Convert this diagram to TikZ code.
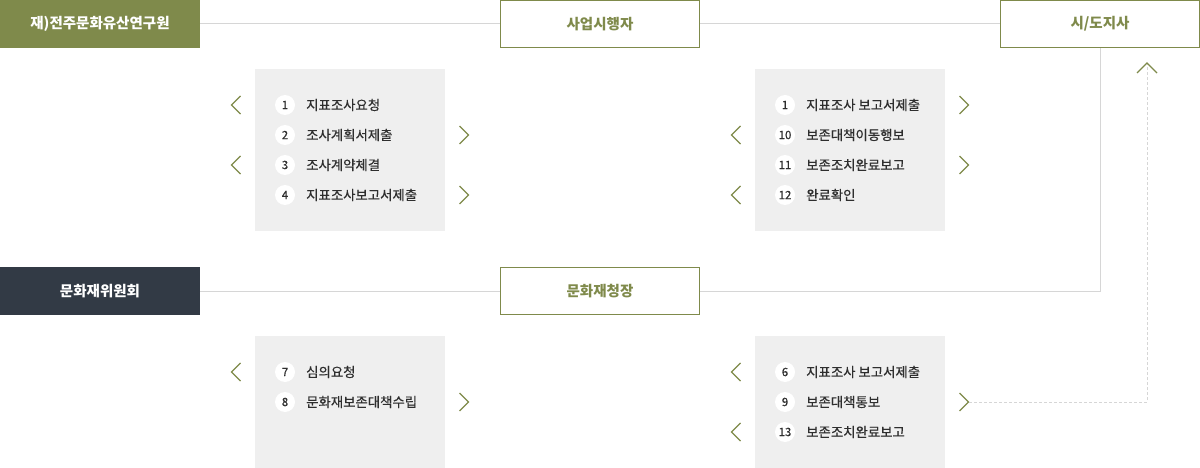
\documentclass[tikz,border=0pt]{standalone}
\usepackage{fontspec}
\setmainfont{Noto Sans CJK KR}
\newfontfamily\krmed[FakeBold=0.4]{Noto Sans CJK KR}
\definecolor{olv}{HTML}{7F8A4B}
\definecolor{darkbox}{HTML}{323A45}
\definecolor{panelgray}{HTML}{EFEFEF}
\definecolor{linegray}{HTML}{D6D6D6}
\definecolor{txt}{HTML}{2E2E2E}
\tikzset{
  fillbox/.style={minimum width=200pt, minimum height=48pt, inner sep=0pt, text=white,
    font=\bfseries\fontsize{14.5}{16}\selectfont},
  outbox/.style={minimum width=199pt, minimum height=47pt, inner sep=0pt, draw=olv, line width=1.2pt,
    fill=white, text=olv, font=\bfseries\fontsize{14.5}{16}\selectfont},
  conn/.style={draw=linegray, line width=1pt},
  dashline/.style={draw=linegray, line width=1pt, dash pattern=on 3pt off 2pt},
  panel/.style={fill=panelgray, inner sep=0pt, minimum width=190pt},
  numc/.style={circle, fill=white, minimum size=20pt, inner sep=0pt, text=txt,
    font=\krmed\fontsize{11.5}{12}\selectfont},
  item/.style={anchor=west, inner sep=0pt, text=txt, font=\krmed\fontsize{13.4}{15}\selectfont},
  chev/.style={draw=olv, line width=1.3pt},
  lchev/.pic={\draw[chev] (4.5,-9) -- (-4.5,0) -- (4.5,9);},
  rchev/.pic={\draw[chev] (-4.5,-9) -- (4.5,0) -- (-4.5,9);},
  uchev/.pic={\draw[chev] (-10,5) -- (0,-5) -- (10,5);}
}
\begin{document}
\begin{tikzpicture}[x=1pt,y=-1pt]
\useasboundingbox[fill=white] (0,0) rectangle (1200,468);

% panels
\node[panel, minimum height=162pt] (pa) at (350,150) {};
\node[panel, minimum height=162pt] (pb) at (850,150) {};
\node[panel, minimum height=132pt] (pc) at (350,402) {};
\node[panel, minimum height=132pt] (pd) at (850,402) {};

% boxes
\node[fillbox, fill=olv] (inst) at (100,24) {재)전주문화유산연구원};
\node[outbox] (biz) at (600,24) {사업시행자};
\node[outbox] (sido) at (1100,24) {시/도지사};
\node[fillbox, fill=darkbox] (comm) at (100,291) {문화재위원회};
\node[outbox] (gov) at (600,291) {문화재청장};

% connectors
\draw[conn] (inst.east) -- (biz.west);
\draw[conn] (biz.east) -- (sido.west);
\draw[conn] (comm.east) -- (gov.west);
\draw[conn] (gov.east) -| (sido.south);

% panel A
\node[numc] (a1) at (285,105) {1}; \node[item] (a1t) at (306,105) {지표조사요청};
\node[numc] (a2) at (285,135) {2}; \node[item] (a2t) at (306,135) {조사계획서제출};
\node[numc] (a3) at (285,165) {3}; \node[item] (a3t) at (306,165) {조사계약체결};
\node[numc] (a4) at (285,195) {4}; \node[item] (a4t) at (306,195) {지표조사보고서제출};
\pic at (236,105) {lchev};
\pic at (464,135) {rchev};
\pic at (236,165) {lchev};
\pic at (464,195) {rchev};

% panel B
\node[numc] (b1) at (785,105) {1}; \node[item] (b1t) at (806,105) {지표조사 보고서제출};
\node[numc] (b2) at (785,135) {10}; \node[item] (b2t) at (806,135) {보존대책이동행보};
\node[numc] (b3) at (785,165) {11}; \node[item] (b3t) at (806,165) {보존조치완료보고};
\node[numc] (b4) at (785,195) {12}; \node[item] (b4t) at (806,195) {완료확인};
\pic at (964,105) {rchev};
\pic at (736,135) {lchev};
\pic at (964,165) {rchev};
\pic at (736,195) {lchev};

% panel C
\node[numc] (c1) at (285,372) {7}; \node[item] (c1t) at (306,372) {심의요청};
\node[numc] (c2) at (285,402) {8}; \node[item] (c2t) at (306,402) {문화재보존대책수립};
\pic at (236,372) {lchev};
\pic at (464,402) {rchev};

% panel D
\node[numc] (d1) at (785,372) {6}; \node[item] (d1t) at (806,372) {지표조사 보고서제출};
\node[numc] (d2) at (785,402) {9}; \node[item] (d2t) at (806,402) {보존대책통보};
\node[numc] (d3) at (785,432) {13}; \node[item] (d3t) at (806,432) {보존조치완료보고};
\pic at (736,372) {lchev};
\pic at (964,402) {rchev};
\pic at (736,432) {lchev};

% dashed return to 시/도지사
\coordinate (dstart) at (969,402);
\coordinate (dend) at (1147,64);
\draw[dashline] (dstart) -| (dend);
\pic at (1147,68) {uchev};
\end{tikzpicture}
\end{document}
